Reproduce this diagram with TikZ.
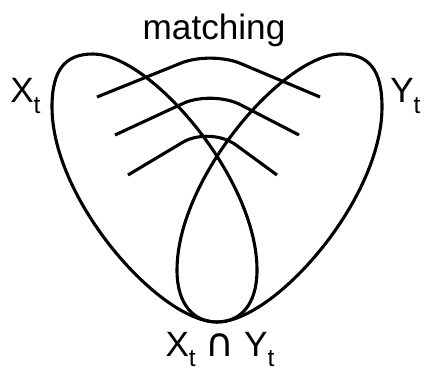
\documentclass[tikz,border=0pt]{standalone}
\usepackage{fontspec}
\setmainfont{Liberation Sans}
\newfontfamily\symfont{DejaVu Sans}
\usepackage{tikz}
\usetikzlibrary{positioning, calc}

\newcommand{\tsub}[1]{\raisebox{-7.5pt}{\fontsize{17.5pt}{18pt}\selectfont #1}}

\begin{document}
\begin{tikzpicture}[
  x=0.025cm, y=-0.025cm,
  blob/.style={line width=2.2pt, line join=round},
  pair/.style={line width=2.2pt, rounded corners=0.8cm},
  lbl/.style={inner sep=0pt, font=\fontsize{25pt}{30pt}\selectfont}
]
  \useasboundingbox (0,0) rectangle (425,373);

  % the two sets
  \draw[blob] (217,322) .. controls (160,322) and (52,200) .. (52,107)
    .. controls (52,70) and (65,54) .. (93,54)
    .. controls (150,54) and (257,178) .. (257,270)
    .. controls (257,305) and (240,322) .. (217,322) -- cycle;
  \draw[blob] (217,322) .. controls (274,322) and (382,200) .. (382,107)
    .. controls (382,70) and (369,54) .. (341,54)
    .. controls (284,54) and (177,178) .. (177,270)
    .. controls (177,305) and (194,322) .. (217,322) -- cycle;

  % matching edges
  \coordinate (l1) at (97,97);   \coordinate (r1) at (320,97);
  \coordinate (l2) at (115,135); \coordinate (r2) at (299,135);
  \coordinate (l3) at (128,175); \coordinate (r3) at (277,175);
  \draw[pair] (l1) -- (211,51) -- (r1);
  \draw[pair] (l2) -- (212,90) -- (r2);
  \draw[pair] (l3) -- (210,126) -- (r3);

  \node[lbl, anchor=base] (match) at (214,40) {matching};
  \node[lbl, anchor=base west] (xset) at (10,103) {X\tsub{t}};
  \node[lbl, anchor=base west] (yset) at (390,103) {Y\tsub{t}};
  \node[lbl, anchor=base] (both) at (220,356)
    {X\tsub{t} {\symfont\fontsize{28pt}{30pt}\selectfont ∩} Y\tsub{t}};
\end{tikzpicture}
\end{document}
